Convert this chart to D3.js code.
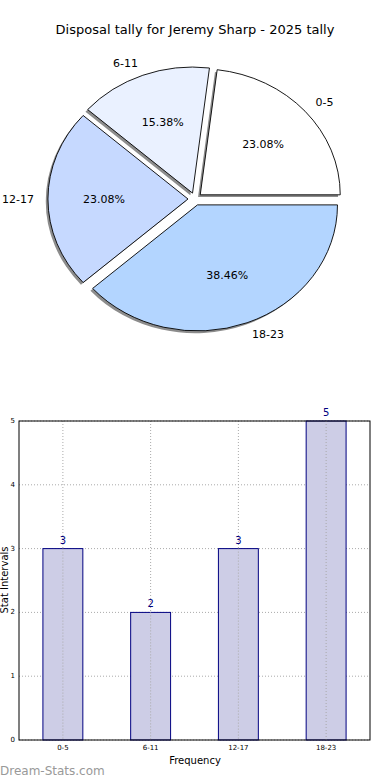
<!DOCTYPE html>
<html>
<head>
<meta charset="utf-8">
<script src="https://cdn.jsdelivr.net/npm/d3@7"></script>
<style>
  body { margin: 0; background: #fff; }
  svg { display: block; font-family: "DejaVu Sans", sans-serif; }
</style>
</head>
<body>
<svg id="chart" width="390" height="780"></svg>
<script>
const title = 'Disposal tally for Jeremy Sharp - 2025 tally';
const categories = ['0-5', '6-11', '12-17', '18-23'];
const counts = [3, 2, 3, 5];
const sliceColors = ['#ffffff', '#eaf1ff', '#c6d9ff', '#b3d5ff'];
const yTicks = [0, 1, 2, 3, 4, 5];

const svg = d3.select('#chart');

svg.append('text')
  .attr('x', 195).attr('y', 34)
  .attr('text-anchor', 'middle')
  .attr('font-size', 13)
  .text(title);

// ---- pie (matplotlib style: ccw from 3 o'clock, exploded, squashed) ----
const cx = 195, cy = 199, rx = 140, ry = 126, explode = 0.05;
const total = d3.sum(counts);

let pie = d3.pie().sort(null)
  .startAngle(Math.PI / 2)
  .endAngle(Math.PI / 2 - 2 * Math.PI);
let arcGen = d3.arc().innerRadius(0).outerRadius(1);
let arcData = pie(counts);

const pieG = svg.append('g');

arcData.forEach((d, i) => {
  let mid = (d.startAngle + d.endAngle) / 2;      // d3 angle, 0 at top, clockwise
  let ux = Math.sin(mid), uy = -Math.cos(mid);
  let ox = cx + ux * explode * rx, oy = cy + uy * explode * ry;

  // shadow
  pieG.append('path')
    .attr('d', arcGen(d))
    .attr('transform', `translate(${ox - 2.2},${oy + 2.2}) scale(${rx},${ry})`)
    .attr('fill', '#8c8c8c');
});

arcData.forEach((d, i) => {
  let mid = (d.startAngle + d.endAngle) / 2;
  let ux = Math.sin(mid), uy = -Math.cos(mid);
  let ox = cx + ux * explode * rx, oy = cy + uy * explode * ry;

  pieG.append('path')
    .attr('d', arcGen(d))
    .attr('transform', `translate(${ox},${oy}) scale(${rx},${ry})`)
    .attr('fill', sliceColors[i])
    .attr('stroke', '#000')
    .attr('stroke-width', 0.9)
    .attr('vector-effect', 'non-scaling-stroke');

  pieG.append('text')
    .attr('x', ox + ux * 0.6 * rx)
    .attr('y', oy + uy * 0.6 * ry)
    .attr('text-anchor', 'middle')
    .attr('dominant-baseline', 'central')
    .attr('font-size', 11)
    .text((counts[i] / total * 100).toFixed(2) + '%');

  pieG.append('text')
    .attr('x', ox + ux * 1.1 * rx)
    .attr('y', oy + uy * 1.1 * ry)
    .attr('text-anchor', ux > 0 ? 'start' : 'end')
    .attr('dominant-baseline', 'central')
    .attr('font-size', 11)
    .text(categories[i]);
});

// ---- bar chart ----
const plotLeft = 19, plotRight = 370, plotTop = 421, plotBottom = 740;

let x = d3.scaleBand().domain(categories).range([plotLeft, plotRight]).padding(0);
let y = d3.scaleLinear().domain([0, 5]).range([plotBottom, plotTop]);
const barW = x.bandwidth() * 0.455;

const bars = svg.append('g');

// grid
bars.selectAll('.hgrid').data(yTicks).join('line')
  .attr('x1', plotLeft).attr('x2', plotRight)
  .attr('y1', d => y(d)).attr('y2', d => y(d))
  .attr('stroke', '#aaa').attr('stroke-dasharray', '1,2');

bars.selectAll('.vgrid').data(categories).join('line')
  .attr('x1', d => x(d) + x.bandwidth() / 2).attr('x2', d => x(d) + x.bandwidth() / 2)
  .attr('y1', plotTop).attr('y2', plotBottom)
  .attr('stroke', '#aaa').attr('stroke-dasharray', '1,2');

bars.selectAll('rect.bar').data(counts).join('rect')
  .attr('class', 'bar')
  .attr('x', (d, i) => x(categories[i]) + x.bandwidth() / 2 - barW / 2)
  .attr('y', d => y(d))
  .attr('width', barW)
  .attr('height', d => plotBottom - y(d))
  .attr('fill', '#cdcde6')
  .attr('stroke', '#000080')
  .attr('stroke-width', 1);

// vertical grid drawn again over the bars, as in the reference
bars.selectAll('.vgrid2').data(categories).join('line')
  .attr('x1', d => x(d) + x.bandwidth() / 2).attr('x2', d => x(d) + x.bandwidth() / 2)
  .attr('y1', d => y(counts[categories.indexOf(d)])).attr('y2', plotBottom)
  .attr('stroke', '#aaa').attr('stroke-dasharray', '1,2');

bars.selectAll('text.val').data(counts).join('text')
  .attr('class', 'val')
  .attr('x', (d, i) => x(categories[i]) + x.bandwidth() / 2)
  .attr('y', d => y(d) - 5)
  .attr('text-anchor', 'middle')
  .attr('font-size', 10)
  .attr('fill', '#000080')
  .text(d => d);

// frame
bars.append('rect')
  .attr('x', plotLeft).attr('y', plotTop)
  .attr('width', plotRight - plotLeft).attr('height', plotBottom - plotTop)
  .attr('fill', 'none').attr('stroke', '#000').attr('stroke-width', 1);

// y ticks
bars.selectAll('text.ytick').data(yTicks).join('text')
  .attr('class', 'ytick')
  .attr('x', plotLeft - 4)
  .attr('y', d => y(d))
  .attr('text-anchor', 'end')
  .attr('dominant-baseline', 'central')
  .attr('font-size', 7)
  .text(d => d);

// x ticks
bars.selectAll('text.xtick').data(categories).join('text')
  .attr('class', 'xtick')
  .attr('x', d => x(d) + x.bandwidth() / 2)
  .attr('y', plotBottom + 10)
  .attr('text-anchor', 'middle')
  .attr('font-size', 7)
  .text(d => d);

svg.append('text')
  .attr('x', 195).attr('y', 764)
  .attr('text-anchor', 'middle')
  .attr('font-size', 10)
  .text('Frequency');

svg.append('text')
  .attr('transform', 'translate(8,580) rotate(-90)')
  .attr('text-anchor', 'middle')
  .attr('font-size', 10)
  .text('Stat Intervals');

svg.append('text')
  .attr('x', 0).attr('y', 775)
  .attr('font-size', 12)
  .attr('fill', '#999')
  .text('Dream-Stats.com');
</script>
</body>
</html>
